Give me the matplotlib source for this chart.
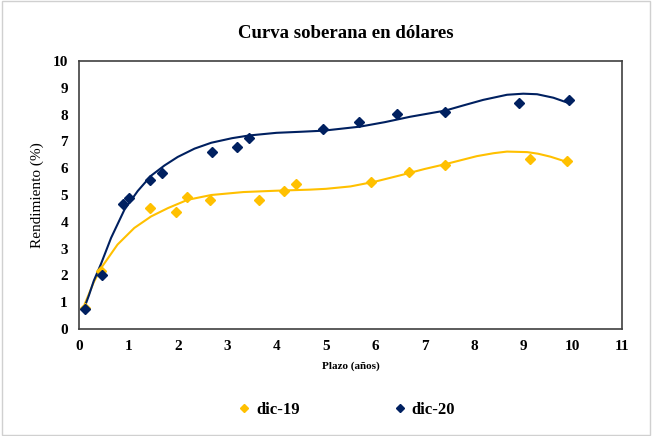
import numpy as np
import matplotlib
matplotlib.use("Agg")
import matplotlib.pyplot as plt
from matplotlib.patches import Rectangle

# Data (points)
x_dic19 = [0.12, 0.45, 1.43, 1.97, 2.18, 2.65, 3.65, 4.16, 4.40, 5.91, 6.68, 7.41, 9.14, 9.89]
y_dic19 = [0.80, 2.18, 4.51, 4.36, 4.94, 4.82, 4.82, 5.16, 5.41, 5.48, 5.86, 6.13, 6.33, 6.26]
x_dic20 = [0.12, 0.47, 0.89, 1.01, 1.43, 1.69, 2.69, 3.20, 3.44, 4.95, 5.67, 6.45, 7.42, 8.92, 9.92]
y_dic20 = [0.75, 2.00, 4.67, 4.88, 5.57, 5.82, 6.60, 6.78, 7.12, 7.45, 7.71, 8.03, 8.10, 8.43, 8.56]

# Fitted curves
curve19_x = [0.12, 0.30, 0.45, 0.78, 1.12, 1.46, 1.80, 2.20, 2.68, 3.33, 4.00, 4.68, 5.00,
             5.50, 6.00, 6.50, 7.00, 7.42, 8.06, 8.40, 8.67, 9.08, 9.30, 9.55, 9.89]
curve19_y = [0.95, 1.75, 2.28, 3.15, 3.77, 4.20, 4.51, 4.82, 5.00, 5.11, 5.16, 5.20, 5.23,
             5.32, 5.50, 5.73, 5.97, 6.15, 6.45, 6.56, 6.62, 6.60, 6.54, 6.43, 6.23]
curve20_x = [0.12, 0.20, 0.30, 0.45, 0.65, 0.92, 1.19, 1.46, 1.73, 2.00, 2.34, 2.68, 3.10, 3.44,
             4.00, 4.50, 4.95, 5.69, 6.20, 6.71, 7.42, 7.80, 8.19, 8.67, 9.00, 9.28, 9.61, 9.92]
curve20_y = [0.85, 1.25, 1.80, 2.45, 3.40, 4.45, 5.15, 5.72, 6.10, 6.42, 6.73, 6.95, 7.12, 7.22,
             7.32, 7.36, 7.40, 7.55, 7.72, 7.92, 8.15, 8.35, 8.55, 8.74, 8.78, 8.76, 8.63, 8.43]

series_labels = ["dic-19", "dic-20"]
colors = ["#FFC000", "#002060"]
x_ticks = list(range(0, 12))
y_ticks = list(range(0, 11))

serif = ["Liberation Serif", "DejaVu Serif"]
plt.rcParams["font.family"] = serif

fig = plt.figure(figsize=(6.52, 4.36), dpi=100)
ax = fig.add_axes([79 / 652, 1 - 329 / 436, (622 - 79) / 652, (329 - 61) / 436])

for xs, ys, cx, cy, c, lab in [
        (x_dic19, y_dic19, curve19_x, curve19_y, colors[0], series_labels[0]),
        (x_dic20, y_dic20, curve20_x, curve20_y, colors[1], series_labels[1])]:
    ax.plot(xs, ys, linestyle="none", marker="D", markersize=5, color=c, label=lab, zorder=3)
    ax.plot(cx, cy, color=c, linewidth=1.5, zorder=2, solid_joinstyle="round")

ax.set_xlim(0, 11)
ax.set_ylim(0, 10)
ax.set_xticks(x_ticks)
ax.set_yticks(y_ticks)
ax.tick_params(length=0, labelsize=11, pad=8)
for lbl in ax.get_xticklabels() + ax.get_yticklabels():
    lbl.set_fontweight("bold")
for s in ax.spines.values():
    s.set_color("#404040")
    s.set_linewidth(1.2)

ax.set_ylabel("Rendimiento (%)", fontsize=11, labelpad=6)
ax.set_xlabel("Plazo (años)", fontsize=8, fontweight="bold", labelpad=6)
fig.text(0.53, 1 - 33 / 436, "Curva soberana en dólares", ha="center", va="center",
         fontsize=13.5, fontweight="bold")

handles, labels = ax.get_legend_handles_labels()
fig.legend(handles, labels, loc="center", bbox_to_anchor=(0.53, 1 - 410 / 436), ncol=2,
           frameon=False, markerscale=0.8, handletextpad=0.2, columnspacing=5.5,
           prop={"size": 12, "weight": "bold", "family": serif}, handlelength=1)

fig.patches.append(Rectangle((0.003, 0.003), 0.994, 0.994, transform=fig.transFigure,
                             fill=False, edgecolor="#d0d0d0", linewidth=1))
fig.savefig("out.png", dpi=100)
